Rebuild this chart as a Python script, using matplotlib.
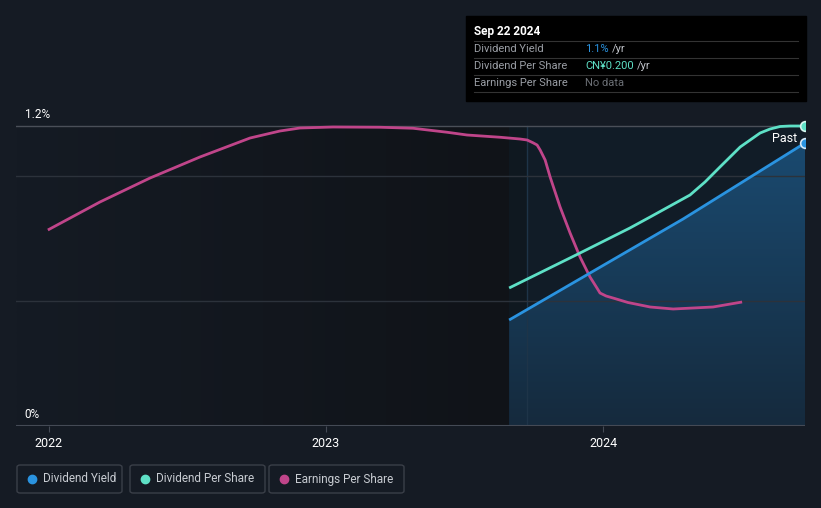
import numpy as np
import matplotlib
matplotlib.use("Agg")
import matplotlib.pyplot as plt
from matplotlib.patches import FancyBboxPatch, Rectangle

plt.rcParams["font.family"] = ["Roboto", "DejaVu Sans"]

# data (x in fractional years, y in %)
eps_x = [2021.996, 2022.184, 2022.365, 2022.545, 2022.726, 2022.834, 2022.906, 2023.025,
         2023.195, 2023.314, 2023.437, 2023.509, 2023.628, 2023.700, 2023.726, 2023.747,
         2023.762, 2023.773, 2023.791, 2023.809, 2023.845, 2023.881, 2023.917, 2023.953,
         2023.978, 2023.989, 2024.011, 2024.036, 2024.090, 2024.170, 2024.253, 2024.397, 2024.502]
eps_y = [0.784, 0.896, 0.992, 1.076, 1.152, 1.180, 1.192, 1.196,
         1.195, 1.191, 1.175, 1.164, 1.155, 1.148, 1.144, 1.133,
         1.124, 1.104, 1.064, 0.996, 0.876, 0.772, 0.676, 0.596,
         0.552, 0.532, 0.520, 0.512, 0.494, 0.476, 0.468, 0.476, 0.496]
dps_x = [2023.661, 2023.917, 2024.097, 2024.170, 2024.314, 2024.368, 2024.422, 2024.495,
         2024.567, 2024.603, 2024.639, 2024.675, 2024.729]
dps_y = [0.552, 0.692, 0.792, 0.836, 0.924, 0.976, 1.036, 1.116,
         1.172, 1.188, 1.198, 1.200, 1.200]
dy_x = [2023.661, 2024.289, 2024.729]
dy_y = [0.424, 0.828, 1.132]

years = [2022, 2023, 2024]
year_labels = ["2022", "2023", "2024"]
X0, X1 = 2021.881, 2024.729
PAST_START = 2023.661
YEAR_AGO = 2023.726
TOP = 1.2

BG = "#151b24"
C_DY = "#2a93e0"
C_DPS = "#5ee0c6"
C_EPS = "#c0458a"

fig = plt.figure(figsize=(8.21, 5.08), dpi=100)
fig.patch.set_facecolor(BG)
ax = fig.add_axes([16 / 821, (508 - 426) / 508, (805 - 16) / 821, (426 - 100) / 508])
ax.set_facecolor(BG)
ax.set_xlim(X0, X1)
ax.set_ylim(0, 1.304)

# darker region left of the data window (horizontal gradient)
grad = np.linspace(0, 1, 256)[None, :]
cmap = matplotlib.colors.LinearSegmentedColormap.from_list("g", [BG, "#101318"])
ax.imshow(grad, extent=[X0, PAST_START, 0, TOP], aspect="auto", cmap=cmap, zorder=0)
# data window background
ax.add_patch(Rectangle((PAST_START, 0), X1 - PAST_START, TOP, color="#111c27", zorder=0.5, lw=0))
ax.add_patch(Rectangle((PAST_START, 0), YEAR_AGO - PAST_START, TOP, color="#0f1820", zorder=0.6, lw=0))

# gradient fill under dividend yield
poly = ax.fill_between(dy_x, dy_y, 0, color="none", lw=0)
vgrad = np.linspace(1, 0, 256)[:, None]
cmap2 = matplotlib.colors.LinearSegmentedColormap.from_list("b", ["#152a3d", "#1a4a70"])
im = ax.imshow(vgrad, extent=[PAST_START, X1, 0, dy_y[-1]], aspect="auto", cmap=cmap2, zorder=0.8)
im.set_clip_path(poly.get_paths()[0], transform=ax.transData)
ax.plot([YEAR_AGO, YEAR_AGO], [0, TOP], color="#1e3448", lw=1, zorder=0.9)

# grid lines
ax.axhline(1.2, color="#4a4f58", lw=1, zorder=1)
for g in (1.0, 0.5):
    ax.axhline(g, color="#2c323b", lw=1, zorder=1)

ax.plot(eps_x, eps_y, color=C_EPS, lw=2.0, zorder=3, solid_capstyle="butt", solid_joinstyle="round")
ax.plot(dps_x, dps_y, color=C_DPS, lw=2.0, zorder=3, solid_capstyle="butt", solid_joinstyle="round")
ax.plot(dy_x, dy_y, color=C_DY, lw=2.0, zorder=3, solid_capstyle="butt", solid_joinstyle="round")
ax.plot([dps_x[-1]], [dps_y[-1]], "o", ms=7, mfc=C_DPS, mec="#d8f5ef", mew=1.2, zorder=4)
ax.plot([dy_x[-1]], [dy_y[-1]], "o", ms=7, mfc=C_DY, mec="#d6e9f8", mew=1.2, zorder=4)
ax.text(2024.700, 1.152, "Past", color="white", fontsize=9, ha="right", va="center", zorder=5)

for s in ax.spines.values():
    s.set_visible(False)
ax.axhline(0, color="#444a55", lw=1.5, zorder=2)
ax.set_xticks(years)
ax.set_xticklabels(year_labels, color="white", fontsize=9)
ax.tick_params(axis="x", length=4, color="#444a55", pad=4)
ax.set_yticks([])
ax.text(25 / 821, (508 - 114) / 508, "1.2%", transform=fig.transFigure, color="white", fontsize=8.5, va="center")
ax.text(24 / 821, (508 - 414) / 508, "0%", transform=fig.transFigure, color="white", fontsize=8.5, va="center")


def fx(px):
    return px / 821


def fy(py):
    return (508 - py) / 508


# tooltip box
fig.patches.append(Rectangle((fx(466), fy(101)), fx(806) - fx(466), fy(16) - fy(101),
                             transform=fig.transFigure, color="black", zorder=10))
fig.text(fx(474), fy(31), "Sep 22 2024", color="white", fontsize=8.5, fontweight="bold", va="center", zorder=11)
rows = [("Dividend Yield", "1.1%", C_DY),
        ("Dividend Per Share", "CN¥0.200", C_DPS),
        ("Earnings Per Share", "No data", "#6b6f75")]
fig.canvas.draw()
for i, (lab, val, col) in enumerate(rows):
    yc = 49 + i * 17
    fig.lines.append(plt.Line2D([fx(474), fx(798)], [fy(yc - 8), fy(yc - 8)], transform=fig.transFigure,
                                color="#333", lw=0.8, zorder=11))
    fig.text(fx(474), fy(yc), lab, color="#9a9ea5", fontsize=8, va="center", zorder=11)
    t = fig.text(fx(585), fy(yc), val, color=col, fontsize=8, va="center", zorder=11)
    if val != "No data":
        bb = t.get_window_extent(renderer=fig.canvas.get_renderer())
        fig.text(bb.x1 / 821 + 0.004, fy(yc), "/yr", color="#c0c4ca", fontsize=8, va="center", zorder=11)
fig.lines.append(plt.Line2D([fx(474), fx(798)], [fy(92), fy(92)], transform=fig.transFigure,
                            color="#333", lw=0.8, zorder=11))

# legend boxes
legend = [("Dividend Yield", C_DY, 17, 122), ("Dividend Per Share", C_DPS, 130, 265),
          ("Earnings Per Share", C_EPS, 269, 404)]
for lab, col, x0, x1 in legend:
    fig.patches.append(FancyBboxPatch((fx(x0), fy(493)), fx(x1) - fx(x0), fy(465) - fy(493),
                                      boxstyle="round,pad=0,rounding_size=0.004", transform=fig.transFigure,
                                      fc="none", ec="#3a3f48", lw=1))
    fig.lines.append(plt.Line2D([fx(x0 + 15)], [fy(479)], marker="o", ms=6, color=col,
                                transform=fig.transFigure))
    fig.text(fx(x0 + 26), fy(479), lab, color="#c8ccd2", fontsize=8.5, va="center")

fig.savefig("out.png", dpi=100, facecolor=BG)
